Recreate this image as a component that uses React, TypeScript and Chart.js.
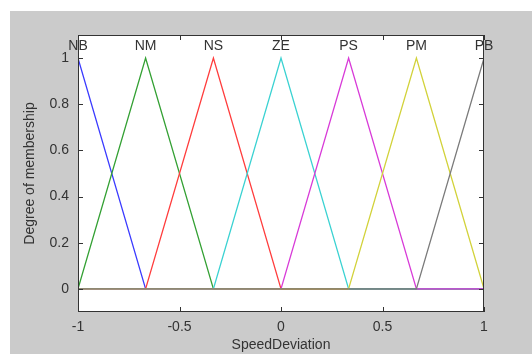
import React, { useEffect, useRef } from "react";
import { Chart, registerables } from "chart.js";

Chart.register(...registerables);

// Membership function labels and their peak positions
const categories = ["NB", "NM", "NS", "ZE", "PS", "PM", "PB"];
const centers = [-1, -0.667, -0.333, 0, 0.333, 0.667, 1];

// Each membership function as x / y vertex lists (plotted over the full range)
const nbX = [-1, -0.667, 1];
const nbY = [1, 0, 0];
const nmX = [-1, -0.667, -0.333, 1];
const nmY = [0, 1, 0, 0];
const nsX = [-1, -0.667, -0.333, 0, 1];
const nsY = [0, 0, 1, 0, 0];
const zeX = [-1, -0.333, 0, 0.333, 1];
const zeY = [0, 0, 1, 0, 0];
const psX = [-1, 0, 0.333, 0.667, 1];
const psY = [0, 0, 1, 0, 0];
const pmX = [-1, 0.333, 0.667, 1];
const pmY = [0, 0, 1, 0];
const pbX = [-1, 0.667, 1];
const pbY = [0, 0, 1];

const seriesX = [nbX, nmX, nsX, zeX, psX, pmX, pbX];
const seriesY = [nbY, nmY, nsY, zeY, psY, pmY, pbY];
const colors = ["#3a3aff", "#33a033", "#ff3c3c", "#3ad2d2", "#d83ad8", "#d2d23a", "#7a7a7a"];

const xTicks = [-1, -0.5, 0, 0.5, 1];
const yTicks = [0, 0.2, 0.4, 0.6, 0.8, 1];

const FONT = '"Liberation Sans", Arial, sans-serif';
const TEXT = "#333333";

const framePlugin = {
  id: "frame",
  beforeDraw(chart: any) {
    const { ctx, chartArea: a } = chart;
    ctx.save();
    ctx.fillStyle = "#ffffff";
    ctx.fillRect(0, 0, chart.width, chart.height);
    ctx.fillStyle = "#cbcbcb";
    ctx.fillRect(10, 11, chart.width - 10, chart.height - 11);
    ctx.fillStyle = "#ffffff";
    ctx.fillRect(a.left, a.top, a.right - a.left, a.bottom - a.top);
    ctx.restore();
  },
  afterDraw(chart: any) {
    const { ctx, chartArea: a, scales } = chart;
    const xs = scales.x;
    const ys = scales.y;
    ctx.save();
    ctx.strokeStyle = "#333333";
    ctx.lineWidth = 1;
    ctx.strokeRect(a.left + 0.5, a.top + 0.5, a.right - a.left - 1, a.bottom - a.top - 1);
    const tl = 5;
    ctx.beginPath();
    xTicks.forEach((v) => {
      const px = Math.round(xs.getPixelForValue(v)) + 0.5;
      ctx.moveTo(px, a.top);
      ctx.lineTo(px, a.top + tl);
      ctx.moveTo(px, a.bottom);
      ctx.lineTo(px, a.bottom - tl);
    });
    yTicks.forEach((v) => {
      const py = Math.round(ys.getPixelForValue(v)) + 0.5;
      ctx.moveTo(a.left, py);
      ctx.lineTo(a.left + tl, py);
      ctx.moveTo(a.right, py);
      ctx.lineTo(a.right - tl, py);
    });
    ctx.stroke();
    // peak labels
    ctx.fillStyle = TEXT;
    ctx.font = "14px " + FONT;
    ctx.textAlign = "center";
    ctx.textBaseline = "middle";
    categories.forEach((c, i) => {
      ctx.fillText(c, xs.getPixelForValue(centers[i]), ys.getPixelForValue(1.05));
    });
    ctx.restore();
  },
};

export default function App() {
  const ref = useRef<HTMLCanvasElement | null>(null);
  useEffect(() => {
    if (!ref.current) return;
    const n = categories.length;
    const datasets = categories.map((c, i) => ({
      label: c,
      data: seriesX[i].map((x, j) => ({ x, y: seriesY[i][j] })),
      borderColor: colors[i],
      backgroundColor: colors[i],
      borderWidth: 1.3,
      pointRadius: 0,
      tension: 0,
      fill: false,
      order: n - i,
    }));
    const chart = new Chart(ref.current, {
      type: "line",
      data: { datasets },
      options: {
        animation: false,
        responsive: false,
        layout: { padding: { top: 35, right: 48, left: 0, bottom: 0 } },
        plugins: { legend: { display: false }, tooltip: { enabled: false } },
        scales: {
          x: {
            type: "linear",
            min: -1,
            max: 1,
            grid: { display: false, drawTicks: false },
            border: { display: false },
            afterBuildTicks: (s: any) => {
              s.ticks = xTicks.map((v) => ({ value: v }));
            },
            afterFit: (s: any) => {
              s.height = 42;
            },
            ticks: {
              color: TEXT,
              font: { family: FONT, size: 14 },
              padding: 7,
              maxRotation: 0,
              callback: (v: any) => String(v),
            },
            title: {
              display: true,
              text: "SpeedDeviation",
              color: TEXT,
              font: { family: FONT, size: 14 },
              padding: { top: 0, bottom: 0 },
            },
          },
          y: {
            type: "linear",
            min: -0.1,
            max: 1.1,
            grid: { display: false, drawTicks: false },
            border: { display: false },
            afterBuildTicks: (s: any) => {
              s.ticks = yTicks.map((v) => ({ value: v }));
            },
            afterFit: (s: any) => {
              s.width = 78;
            },
            ticks: {
              color: TEXT,
              font: { family: FONT, size: 14 },
              padding: 9,
              callback: (v: any) => String(v),
            },
            title: {
              display: true,
              text: "Degree of membership",
              color: TEXT,
              font: { family: FONT, size: 14 },
              padding: { top: 21.6, bottom: 0 },
            },
          },
        },
      },
      plugins: [framePlugin],
    } as any);
    return () => chart.destroy();
  }, []);
  return (
    <div style={{ position: "fixed", left: 0, top: 0, width: 532, height: 354 }}>
      <canvas ref={ref} width={532} height={354} style={{ display: "block" }} />
    </div>
  );
}
